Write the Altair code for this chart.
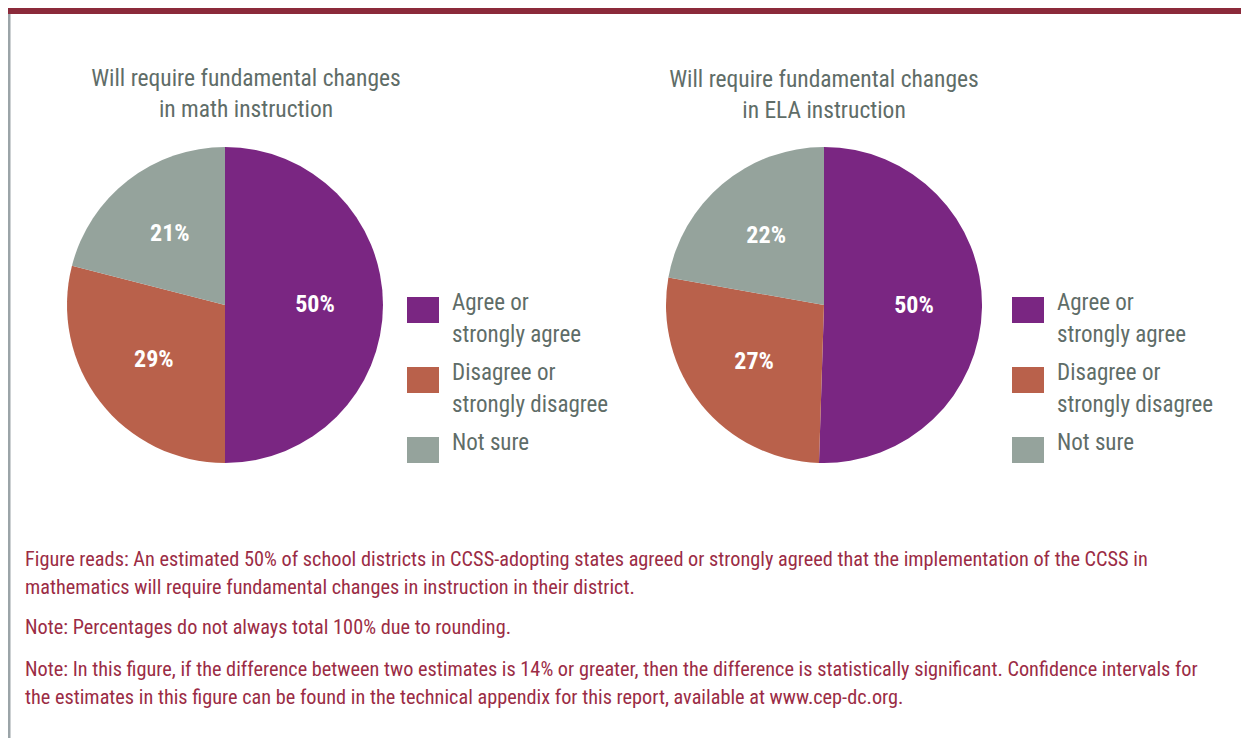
import altair as alt
import pandas as pd

# ---- data ----
categories = ["Agree or strongly agree", "Disagree or strongly disagree", "Not sure"]
legend_lines = {
    "Agree or strongly agree": ["Agree or", "strongly agree"],
    "Disagree or strongly disagree": ["Disagree or", "strongly disagree"],
    "Not sure": ["Not sure"],
}
math_values = [50, 29, 21]
ela_values = [50, 27, 22]
colors = ["#7a2682", "#b9614b", "#95a39c"]
math_title = ["Will require fundamental changes", "in math instruction"]
ela_title = ["Will require fundamental changes", "in ELA instruction"]
note_reads = [
    "Figure reads: An estimated 50% of school districts in CCSS-adopting states agreed or strongly agreed that the implementation of the CCSS in",
    "mathematics will require fundamental changes in instruction in their district.",
]
note_round = ["Note: Percentages do not always total 100% due to rounding."]
note_sig = [
    "Note: In this figure, if the difference between two estimates is 14% or greater, then the difference is statistically significant.  Confidence intervals for",
    "the estimates in this figure can be found in the technical appendix for this report, available at www.cep-dc.org.",
]

FONT = "Liberation Sans Narrow, Roboto Condensed, Open Sans Condensed, DejaVu Sans Condensed, sans-serif"
W, H = 1233, 730
TEXT_GRAY = "#5f6d68"
NOTE_RED = "#9b2c45"


def pie_df(values, field):
    return pd.DataFrame({
        field: categories,
        "value": values,
        "order": list(range(len(categories))),
        "label": [f"{v}%" for v in values],
    })


math_df = pie_df(math_values, "math_response")
ela_df = pie_df(ela_values, "ela_response")
one = pd.DataFrame({"a": [0]})

label_expr = " : ".join(
    f"datum.label == '{k}' ? {v!r}" for k, v in legend_lines.items()
) + " : datum.label"


def legend(x, y):
    return alt.Legend(
        title=None,
        orient="none",
        legendX=x,
        legendY=y,
        symbolType="M-1,-0.8125H1V0.8125H-1Z",
        symbolSize=1024,
        symbolStrokeWidth=0,
        symbolOpacity=1,
        labelFont=FONT,
        labelFontSize=23,
        labelColor=TEXT_GRAY,
        labelLimit=0,
        labelOffset=13,
        labelBaseline="alphabetic",
        labelExpr=label_expr,
        rowPadding=15,
    )


def pie(df, field, cx, cy, channel, leg):
    scale = alt.Scale(range=colors)
    enc_color = channel(f"{field}:N", scale=scale, sort=categories, legend=leg)
    arc = alt.Chart(df).mark_arc(radius=158, strokeWidth=0).encode(
        theta=alt.Theta("value:Q", stack=True),
        order=alt.Order("order:Q"),
        x=alt.value(cx),
        y=alt.value(cy),
    )
    if channel is alt.Color:
        arc = arc.encode(color=enc_color)
    else:
        arc = arc.encode(fill=enc_color)
    txt = alt.Chart(df).mark_text(
        radius=90, font=FONT, fontSize=24, fontWeight="bold", color="white"
    ).encode(
        theta=alt.Theta("value:Q", stack=True),
        order=alt.Order("order:Q"),
        detail=f"{field}:N",
        text="label:N",
        x=alt.value(cx),
        y=alt.value(cy),
    )
    return alt.layer(arc, txt)


math_pie = pie(math_df, "math_response", 217, 297, alt.Color, legend(399, 286))
ela_pie = pie(ela_df, "ela_response", 816, 297, alt.Fill, legend(1004, 286))


def text_block(lines, x, y, color, size, lh, align="center"):
    return alt.Chart(one).mark_text(
        text=lines, font=FONT, fontSize=size, color=color, lineHeight=lh,
        align=align, baseline="middle",
    ).encode(x=alt.value(x), y=alt.value(y))


top_bar = alt.Chart(one).mark_rect(color="#8b2a3a").encode(
    x=alt.value(0), x2=alt.value(W), y=alt.value(0), y2=alt.value(6)
)
left_border = alt.Chart(one).mark_rect(color="#9ba4a8").encode(
    x=alt.value(0), x2=alt.value(2.5), y=alt.value(6), y2=alt.value(H)
)

chart = alt.layer(
    top_bar,
    left_border,
    math_pie,
    ela_pie,
    text_block(math_title, 238, 71, TEXT_GRAY, 23.5, 31),
    text_block(ela_title, 816, 72, TEXT_GRAY, 23.5, 31),
    text_block(note_reads, 17, 552, NOTE_RED, 20.3, 28, "left"),
    text_block(note_round, 17, 620, NOTE_RED, 20.3, 28, "left"),
    text_block(note_sig, 17, 661.5, NOTE_RED, 20.3, 28, "left"),
).resolve_scale(theta="independent").properties(
    width=W, height=H, padding=0, autosize=alt.AutoSizeParams(type="none")
).configure(
    style={"guide-label": {"lineHeight": 32}}
).configure_view(stroke=None)

chart.save("out.html", embed_options={"renderer": "svg", "actions": False})
